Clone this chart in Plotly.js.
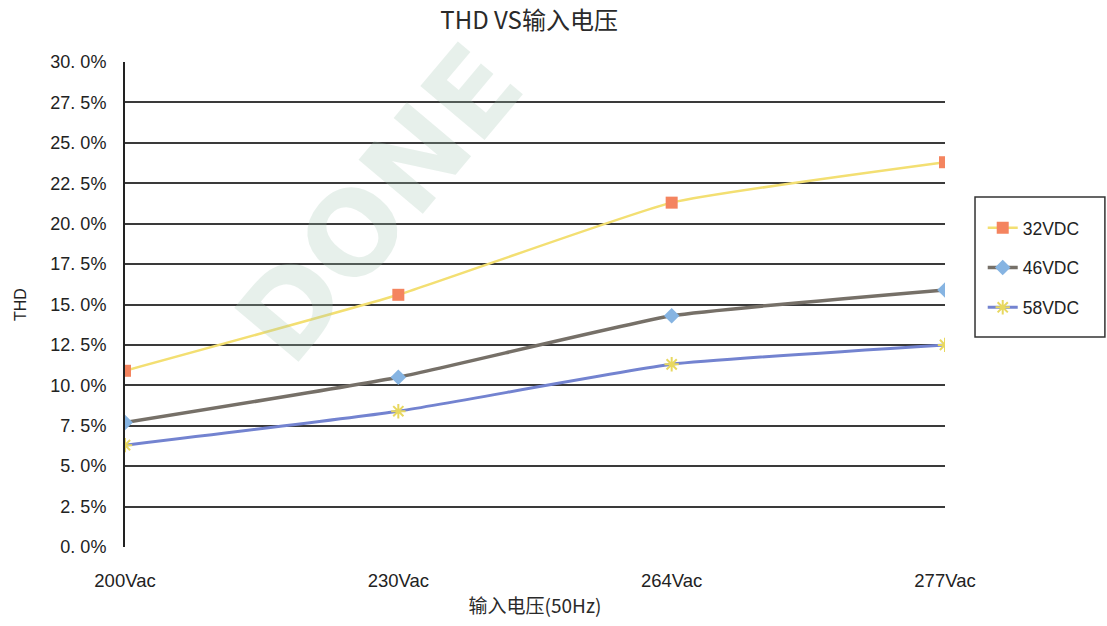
<!DOCTYPE html>
<html><head><meta charset="utf-8">
<script src="https://cdn.plot.ly/plotly-3.0.1.min.js"></script>
<style>html,body{margin:0;padding:0;background:#fff}#c{width:1107px;height:626px}</style>
</head><body><div id="c"></div>
<script>
const categories = ["200Vac", "230Vac", "264Vac", "277Vac"];
const seriesNames = ["32VDC", "46VDC", "58VDC"];
const thd32 = [0.109, 0.156, 0.213, 0.238];
const thd46 = [0.077, 0.105, 0.143, 0.159];
const thd58 = [0.063, 0.084, 0.113, 0.125];
const tickVals = [0, 0.025, 0.05, 0.075, 0.10, 0.125, 0.15, 0.175, 0.20, 0.225, 0.25, 0.275, 0.30];
const tickText = ["0. 0%", "2. 5%", "5. 0%", "7. 5%", "10. 0%", "12. 5%", "15. 0%", "17. 5%", "20. 0%", "22. 5%", "25. 0%", "27. 5%", "30. 0%"];

const traces = [
  {x: categories, y: thd32, name: seriesNames[0], type: "scatter", mode: "lines+markers", legendgroup: "a",
   line: {color: "#f3df72", width: 2.5, shape: "spline", smoothing: 0.4},
   marker: {symbol: "square", size: 12, color: "#f4845f"}},
  {x: categories, y: thd46, name: seriesNames[1], type: "scatter", mode: "lines+markers", legendgroup: "b",
   line: {color: "#767068", width: 3.5, shape: "spline", smoothing: 0.4},
   marker: {symbol: "diamond", size: 12, color: "#86b4e2"}},
  {x: categories, y: thd58, name: seriesNames[2], type: "scatter", mode: "lines+markers", legendgroup: "c",
   line: {color: "#7383d0", width: 3, shape: "spline", smoothing: 0.4},
   marker: {symbol: "asterisk-open", size: 12, color: "#e8d860", line: {color: "#e8d860", width: 2}}}
];

const layout = {
  width: 1107, height: 626,
  margin: {l: 125, r: 162, t: 62, b: 79},
  paper_bgcolor: "#ffffff", plot_bgcolor: "#ffffff",
  font: {family: "Liberation Sans, Arial, sans-serif", color: "#222", size: 16},
  title: {text: "THD VS输入电压", x: 0.478, xanchor: "center", y: 0.98, yanchor: "top",
          font: {family: "Noto Sans CJK SC", size: 24, color: "#2a2a2a"}},
  xaxis: {type: "category", range: [0, 3], showgrid: false, zeroline: false, automargin: false,
          showline: false, ticks: "", ticklabelstandoff: 20, tickfont: {size: 18.5, color: "#222"},
          title: {text: "输入电压(50Hz)", standoff: 10, font: {family: "Noto Sans CJK SC", size: 19, color: "#2a2a2a"}}},
  yaxis: {range: [0, 0.30], tickvals: tickVals, ticktext: tickText, showgrid: true, automargin: false,
          gridcolor: "#3a3a3a", gridwidth: 2, zeroline: false, showline: true, linecolor: "#222", linewidth: 2,
          ticks: "", ticklabelstandoff: 13, tickfont: {size: 18, color: "#222"},
          title: {text: "THD", standoff: 20, font: {size: 16, color: "#222"}}},
  showlegend: true,
  legend: {x: 1.046, xanchor: "left", y: 0.695, yanchor: "top", borderwidth: 0,
           bgcolor: "rgba(0,0,0,0)", traceorder: "grouped", tracegroupgap: 14, font: {size: 17.5, color: "#222"}},
  shapes: [
    {type: "rect", xref: "paper", yref: "paper", x0: 1.0366, x1: 1.195, y0: 0.433, y1: 0.7216,
     line: {color: "#333", width: 1.5}, fillcolor: "rgba(0,0,0,0)"}
  ],
  annotations: [
    {text: "<b>DONE</b>", xref: "paper", yref: "paper", x: 0.31, y: 0.71, xanchor: "center", yanchor: "middle",
     showarrow: false, textangle: -50, font: {size: 115, family: "DejaVu Sans", color: "rgba(160,195,175,0.25)"}}
  ]
};
Plotly.newPlot("c", traces, layout, {displayModeBar: false, staticPlot: true});
</script></body></html>
